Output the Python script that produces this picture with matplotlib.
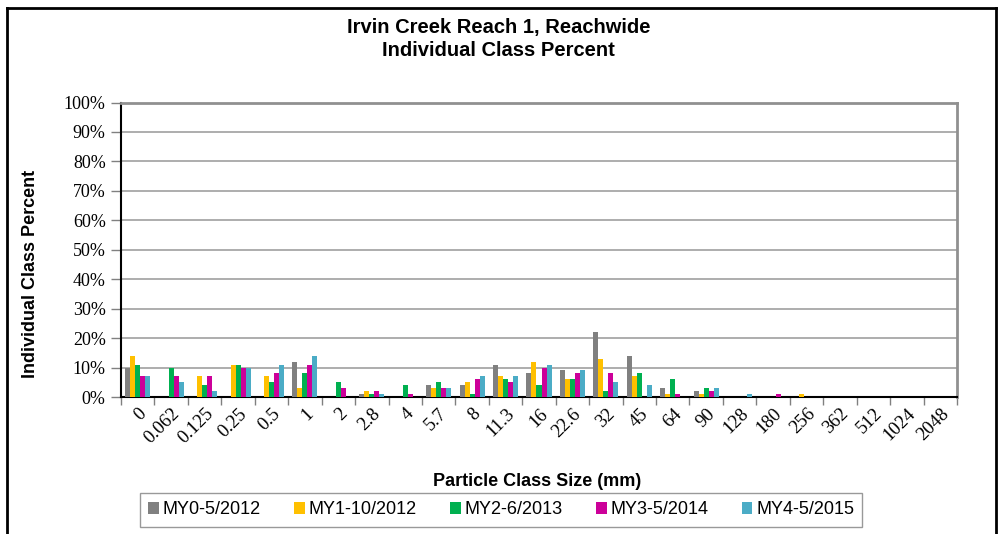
import matplotlib
matplotlib.use("Agg")
import matplotlib.pyplot as plt
import numpy as np
from matplotlib.lines import Line2D

categories = ["0", "0.062", "0.125", "0.25", "0.5", "1", "2", "2.8", "4", "5.7", "8",
              "11.3", "16", "22.6", "32", "45", "64", "90", "128", "180", "256", "362",
              "512", "1024", "2048"]

series_names = ["MY0-5/2012", "MY1-10/2012", "MY2-6/2013", "MY3-5/2014", "MY4-5/2015"]

my0 = [10, 0, 0, 0, 0, 12, 0, 1, 0, 4, 4, 11, 8, 9, 22, 14, 3, 2, 0, 0, 0, 0, 0, 0, 0]
my1 = [14, 0, 7, 11, 7, 3, 0, 2, 0, 3, 5, 7, 12, 6, 13, 7, 1, 1, 0, 0, 1, 0, 0, 0, 0]
my2 = [11, 10, 4, 11, 5, 8, 5, 1, 4, 5, 1, 6, 4, 6, 2, 8, 6, 3, 0, 0, 0, 0, 0, 0, 0]
my3 = [7, 7, 7, 10, 8, 11, 3, 2, 1, 3, 6, 5, 10, 8, 8, 0, 1, 2, 0, 1, 0, 0, 0, 0, 0]
my4 = [7, 5, 2, 10, 11, 14, 0, 1, 0, 3, 7, 7, 11, 9, 5, 4, 0, 3, 1, 0, 0, 0, 0, 0, 0]

series = [my0, my1, my2, my3, my4]
colors = ["#808080", "#FFC000", "#00B050", "#CC0099", "#4BACC6"]

W, H = 1003, 534
fig = plt.figure(figsize=(W / 100, H / 100), dpi=100)
ax = fig.add_axes([121 / W, 1 - 397 / H, (957 - 121) / W, (397 - 102.5) / H])

n = len(categories)
x = np.arange(n)
bw = 0.15
for i, (vals, c, name) in enumerate(zip(series, colors, series_names)):
    ax.bar(x + (i - 2) * bw, vals, width=bw, color=c, label=name, zorder=3,
           edgecolor="none")

ax.set_xlim(-0.5, n - 0.5)
ax.set_ylim(0, 100)
ax.set_yticks(np.arange(0, 101, 10))
ax.set_yticklabels([f"{v}%" for v in range(0, 101, 10)],
                   fontfamily="Liberation Serif", fontsize=13)
ax.yaxis.grid(True, color="#A0A0A0", linewidth=1.2, zorder=0)
ax.set_axisbelow(True)

# category labels centered, tick marks at boundaries
ax.set_xticks(x)
ax.set_xticklabels(categories, rotation=45, ha="right", va="top",
                   rotation_mode="anchor", fontfamily="Liberation Serif", fontsize=13.5)
ax.tick_params(axis="x", which="major", length=0, pad=6)
ax.set_xticks(np.arange(-0.5, n, 1), minor=True)
ax.tick_params(axis="x", which="minor", length=6, width=1, color="#808080", direction="out")
ax.tick_params(axis="y", length=7, width=1, color="#808080", direction="out", pad=4)

for s in ["left", "bottom"]:
    ax.spines[s].set_color("black")
    ax.spines[s].set_linewidth(1.5)
for s in ["top", "right"]:
    ax.spines[s].set_color("#909090")
    ax.spines[s].set_linewidth(2)

fig.text(0.497, 1 - 28 / H, "Irvin Creek Reach 1, Reachwide", ha="center", va="center",
         fontfamily="Liberation Sans", fontweight="bold", fontsize=14.5)
fig.text(0.497, 1 - 51 / H, "Individual Class Percent", ha="center", va="center",
         fontfamily="Liberation Sans", fontweight="bold", fontsize=14.5)

fig.text(537 / W, 1 - 481 / H, "Particle Class Size (mm)", ha="center", va="center",
         fontfamily="Liberation Sans", fontweight="bold", fontsize=13)
fig.text(31 / W, 1 - 274 / H, "Individual Class Percent", ha="center", va="center",
         rotation=90, fontfamily="Liberation Sans", fontweight="bold", fontsize=13)

leg = fig.legend(loc="center", bbox_to_anchor=(501 / W, 1 - 510 / H), ncol=5,
                 prop={"family": "Liberation Sans", "size": 13}, frameon=True,
                 fancybox=False, edgecolor="#808080", handlelength=0.6,
                 handleheight=0.6, handletextpad=0.2, columnspacing=1.85,
                 borderpad=0.45)
leg.get_frame().set_linewidth(1)

# outer chart border (left, top, right)
fig.add_artist(Line2D([7 / W, 7 / W], [0, 1 - 8 / H], transform=fig.transFigure,
                      color="black", linewidth=2))
fig.add_artist(Line2D([7 / W, 996 / W], [1 - 8 / H, 1 - 8 / H], transform=fig.transFigure,
                      color="black", linewidth=2))
fig.add_artist(Line2D([996 / W, 996 / W], [0, 1 - 8 / H], transform=fig.transFigure,
                      color="black", linewidth=2))

fig.savefig("out.png", dpi=100)
